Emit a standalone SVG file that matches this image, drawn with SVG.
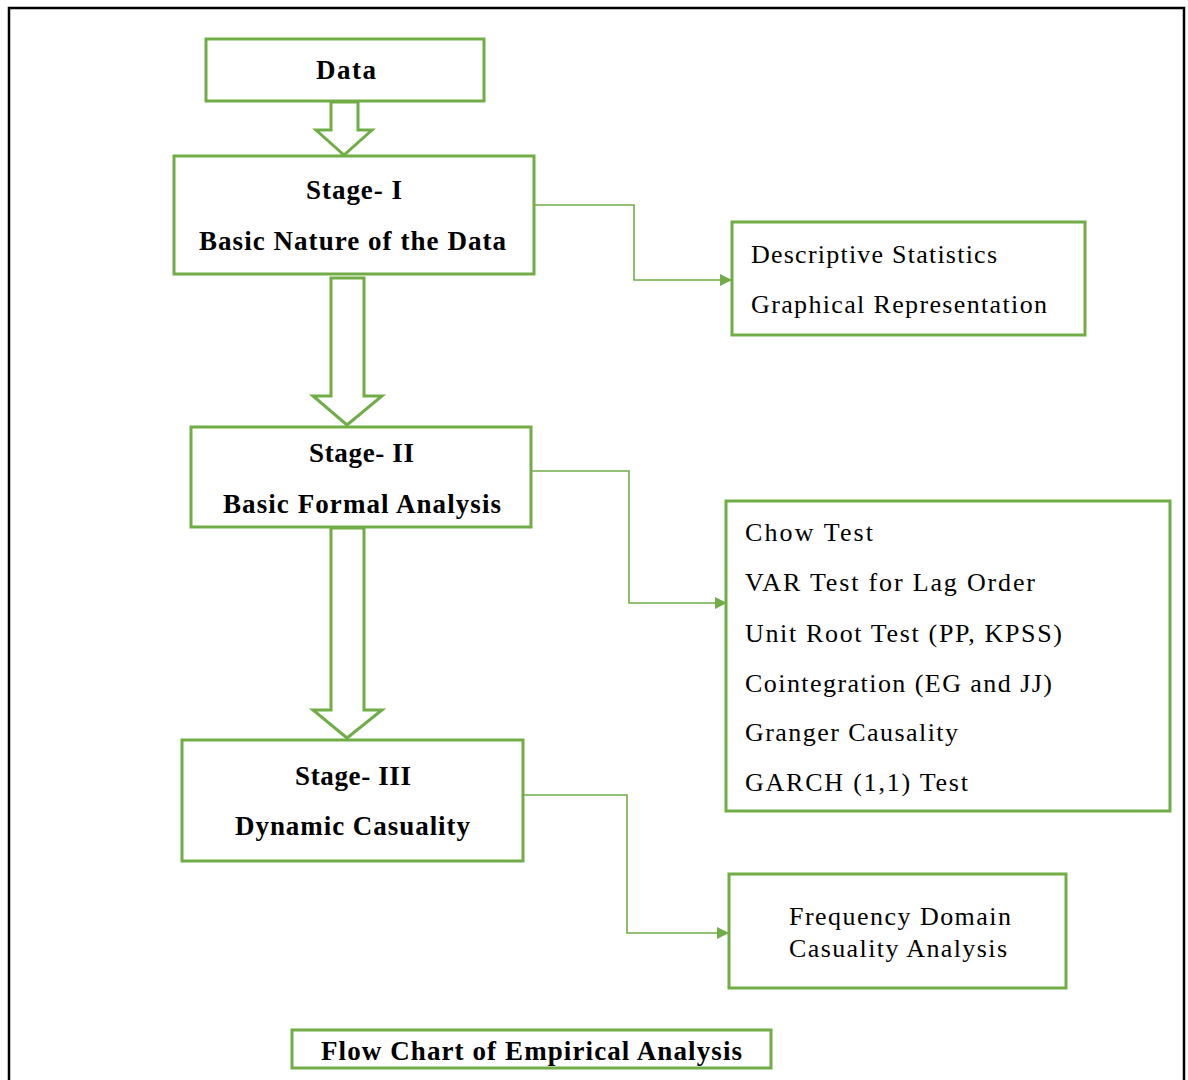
<svg xmlns="http://www.w3.org/2000/svg" width="1188" height="1080" viewBox="0 0 1188 1080">
  <style>
    .box { fill: #ffffff; stroke: #70AD47; stroke-width: 3; }
    .blk { fill: #ffffff; stroke: #70AD47; stroke-width: 3; stroke-linejoin: miter; }
    .conn { fill: none; stroke: #70AD47; stroke-width: 1.6; }
    .b { font-family: "Liberation Serif", "Times New Roman", serif; font-weight: bold; font-size: 27px; fill: #000000; }
    .r { font-family: "Liberation Serif", "Times New Roman", serif; font-size: 26px; fill: #000000; }
  </style>
  <defs>
    <marker id="ah" viewBox="0 0 10 10" refX="10" refY="5" markerWidth="13" markerHeight="12" markerUnits="userSpaceOnUse" orient="auto">
      <path d="M0,0 L10,5 L0,10 Z" fill="#70AD47"/>
    </marker>
  </defs>
  <rect x="0" y="0" width="1188" height="1080" fill="#ffffff"/>
  <g id="frame">
    <path d="M9,1080 L9,8 L1184,8 L1184,1080" fill="none" stroke="#000000" stroke-width="2.5"/>
  </g>

  <g id="connectors">
    <polyline class="conn" points="535,205 634,205 634,280 732,280" marker-end="url(#ah)"/>
    <polyline class="conn" points="532,471 629,471 629,603 727,603" marker-end="url(#ah)"/>
    <polyline class="conn" points="524,795 627,795 627,933 729,933" marker-end="url(#ah)"/>
    <path class="blk" d="M331,102 L358,102 L358,130 L372,130 L344,155 L316,130 L331,130 Z"/>
    <path class="blk" d="M331,278 L364,278 L364,396 L382,396 L347,425 L313,396 L331,396 Z"/>
    <path class="blk" d="M331,528 L364,528 L364,710 L382,710 L347,738 L313,710 L331,710 Z"/>
  </g>

  <g id="data">
    <rect class="box" x="206" y="39" width="278" height="62"/>
    <text class="b" x="316" y="79" textLength="60" lengthAdjust="spacing">Data</text>
  </g>
  <g id="stage1">
    <rect class="box" x="174" y="156" width="360" height="118"/>
    <text class="b" x="306" y="199" textLength="96" lengthAdjust="spacing">Stage- I</text>
    <text class="b" x="199" y="250" textLength="307" lengthAdjust="spacing">Basic Nature of the Data</text>
  </g>
  <g id="desc">
    <rect class="box" x="732" y="222" width="353" height="113"/>
    <text class="r" x="751" y="263" textLength="246" lengthAdjust="spacing">Descriptive Statistics</text>
    <text class="r" x="751" y="313" textLength="296" lengthAdjust="spacing">Graphical Representation</text>
  </g>
  <g id="stage2">
    <rect class="box" x="191" y="427" width="340" height="100"/>
    <text class="b" x="309" y="462" textLength="105" lengthAdjust="spacing">Stage- II</text>
    <text class="b" x="223" y="513" textLength="278" lengthAdjust="spacing">Basic Formal Analysis</text>
  </g>
  <g id="tests">
    <rect class="box" x="726" y="501" width="444" height="310"/>
    <text class="r" x="745" y="541" textLength="128" lengthAdjust="spacing">Chow Test</text>
    <text class="r" x="745" y="591" textLength="290" lengthAdjust="spacing">VAR Test for Lag Order</text>
    <text class="r" x="745" y="642" textLength="317" lengthAdjust="spacing">Unit Root Test (PP, KPSS)</text>
    <text class="r" x="745" y="692" textLength="307" lengthAdjust="spacing">Cointegration (EG and JJ)</text>
    <text class="r" x="745" y="741" textLength="213" lengthAdjust="spacing">Granger Causality</text>
    <text class="r" x="745" y="791" textLength="223" lengthAdjust="spacing">GARCH (1,1) Test</text>
  </g>
  <g id="stage3">
    <rect class="box" x="182" y="740" width="341" height="121"/>
    <text class="b" x="295" y="785" textLength="116" lengthAdjust="spacing">Stage- III</text>
    <text class="b" x="235" y="835" textLength="235" lengthAdjust="spacing">Dynamic  Casuality</text>
  </g>
  <g id="freq">
    <rect class="box" x="729" y="874" width="337" height="114"/>
    <text class="r" x="789" y="925" textLength="222" lengthAdjust="spacing">Frequency Domain</text>
    <text class="r" x="789" y="957" textLength="218" lengthAdjust="spacing">Casuality Analysis</text>
  </g>
  <g id="caption">
    <rect class="box" x="292" y="1030" width="479" height="38"/>
    <text class="b" x="321" y="1060" textLength="421" lengthAdjust="spacing">Flow Chart of Empirical  Analysis</text>
  </g>
</svg>
